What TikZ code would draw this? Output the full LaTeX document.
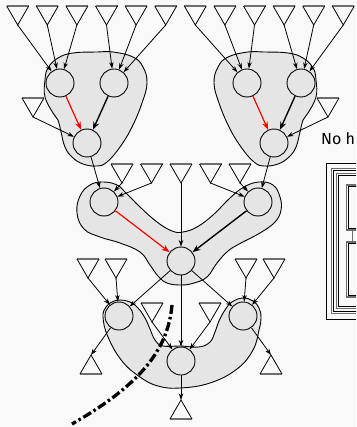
\documentclass[tikz,border=0pt]{standalone}
\usepackage{fontspec}
\setmainfont{Fira Sans}
\usetikzlibrary{arrows.meta}

\definecolor{paper}{HTML}{F9F9F9}
\definecolor{blobfill}{HTML}{E5E5E5}
\definecolor{basegray}{HTML}{6E6E6E}

\begin{document}
\begin{tikzpicture}[
  x=1pt, y=-1pt,
  state/.style={circle, draw, fill=blobfill, minimum size=28pt, inner sep=0pt, line width=0.9pt},
  blob/.style={draw, fill=blobfill, line width=0.9pt},
  edge/.style={-{Stealth[length=6.5pt,width=4.5pt]}, line width=0.8pt},
  strong/.style={-{Stealth[length=8pt,width=6pt]}, line width=1.4pt},
  base/.style={basegray, line width=1.8pt},
]
  \def\tridown#1#2#3{
    \coordinate (#1) at (#2,#3);
    \draw[base] (#2-11,#3-19) -- (#2+11,#3-19);
    \draw[line width=0.8pt] (#2-11,#3-19) -- (#1) -- (#2+11,#3-19);
  }
  \def\triup#1#2#3{
    \coordinate (#1) at (#2,#3);
    \draw[base] (#2-11,#3+19) -- (#2+11,#3+19);
    \draw[line width=0.8pt] (#2-11,#3+19) -- (#1) -- (#2+11,#3+19);
  }

  \useasboundingbox (0,0) rectangle (356,427);
  \clip (0,0) rectangle (356,427);
  \fill[paper] (0,0) rectangle (356,427);

  % clusters
  \draw[blob]
    plot[smooth cycle, tension=0.7]
    coordinates {(97,52) (113,52) (133,57) (143,67) (147,83) (142,103)
      (132,127) (120,147) (107,162) (97,166) (83,164) (72,157) (65,147)
      (61,132) (58,120) (53,113) (45,97) (45,80) (48,68) (58,58) (73,53)}
  ;
  \draw[blob]
    plot[smooth cycle, tension=0.7]
    coordinates {(264,52) (248,52) (228,57) (218,67) (214,83) (219,103)
      (229,127) (241,147) (254,162) (264,166) (278,164) (289,157) (296,147)
      (300,132) (303,120) (308,113) (316,97) (316,80) (313,68) (303,58) (288,53)}
  ;
  \draw[blob]
    plot[smooth cycle, tension=0.7]
    coordinates {(77,213) (80,196) (90,185) (103,182) (117,185) (126,193)
      (140,207) (157,222) (172,231) (183,232) (197,227) (213,215) (230,198)
      (244,187) (259,182) (273,185) (280,197) (281,210) (275,222) (260,233)
      (241,243) (228,251) (217,263) (207,277) (194,283) (181,285) (167,283)
      (158,276) (150,265) (140,252) (120,243) (100,237) (84,229)}
  ;
  \draw[blob]
    plot[smooth cycle, tension=0.7]
    coordinates {(103,317) (106,307) (112,302) (120,300) (130,302) (138,308)
      (145,318) (150,329) (155,340) (163,346) (181,346) (199,347) (210,342)
      (215,332) (219,321) (225,310) (232,302) (243,298) (253,301) (259,308)
      (261,318) (259,330) (253,350) (237,369) (210,383) (180,388) (158,386)
      (140,377) (122,361) (108,337)}
  ;

  % states
  \node[state] (a) at (60,83) {};
  \node[state] (b) at (114,83) {};
  \node[state] (c) at (87,143) {};
  \node[state] (d) at (247,83) {};
  \node[state] (e) at (301,83) {};
  \node[state] (f) at (274,143) {};
  \node[state] (g) at (104,202) {};
  \node[state] (h) at (258,202) {};
  \node[state] (i) at (181,261) {};
  \node[state] (j) at (119,316) {};
  \node[state] (k) at (181,361) {};
  \node[state] (l) at (243,316) {};

  % inputs and outputs
  \foreach \n in {0,...,11} {
    \pgfmathsetmacro\tx{180.5+29.6*(\n-5.5)}
    \tridown{t\n}{\tx}{25}
  }
  \foreach \n in {0,...,4} {
    \pgfmathsetmacro\tx{181+29.5*(\n-2)}
    \tridown{m\n}{\tx}{183}
  }
  \tridown{sl}{33}{117}
  \tridown{sr}{328}{117}
  \tridown{p0}{88}{278}
  \tridown{p1}{116}{278}
  \tridown{p2}{246}{278}
  \tridown{p3}{274}{278}
  \tridown{q0}{152}{322}
  \tridown{q1}{210}{322}
  \triup{u0}{91}{355}
  \triup{u1}{181}{400}
  \triup{u2}{271}{355}

  % edges
  \foreach \s/\t in {t0/a, t1/a, t2/a, t3/b, t4/b, t5/b,
                     t6/d, t7/d, t8/d, t9/e, t10/e, t11/e,
                     sl/c, sr/f, c/g, f/h, m0/g, m1/g, m2/i, m3/h, m4/h,
                     p0/j, p1/j, p2/l, p3/l, q0/k, q1/k,
                     i/j, i/k, i/l, j/u0, k/u1, l/u2}
    \draw[edge] (\s) -- (\t);
  \draw[strong, red, line width=1.2pt] (a) -- (c);
  \draw[strong, red, line width=1.2pt] (d) -- (f);
  \draw[strong, red, line width=1.2pt] (g) -- (i);
  \draw[strong] (b) -- (c);
  \draw[strong] (e) -- (f);
  \draw[strong] (h) -- (i);

  % cut
  \draw[line width=3.3pt, dash pattern=on 9pt off 3pt on 2.5pt off 3pt]
    (172,305) .. controls (168,350) and (140,385) .. (72,424)
  ;

  % nested boxes
  \node[anchor=base west, inner sep=0pt, font=\fontsize{16}{19}\selectfont] (caption) at (321,145) {No h};
  \draw[line width=0.9pt] (326,163) rectangle (370,319);
  \draw[basegray, line width=1.4pt] (331.3,168.3) rectangle (370,313.7);
  \draw[line width=0.8pt] (333.3,170.3) rectangle (370,311.7);
  \draw[basegray, line width=1.4pt] (336.7,173.7) rectangle (370,308.3);
  \draw[line width=0.8pt] (338.7,175.7) rectangle (370,306.3);
  \draw[basegray, line width=1.4pt] (346.5,185) rectangle (370,230);
  \draw[line width=0.8pt] (348.3,186.8) rectangle (370,228.2);
  \draw[basegray, line width=1.4pt] (346.5,242) rectangle (370,297);
  \draw[line width=0.8pt] (348.3,243.8) rectangle (370,295.2);
  \draw[basegray, line width=1.4pt] (352.5,230) -- (352.5,242);
\end{tikzpicture}
\end{document}
